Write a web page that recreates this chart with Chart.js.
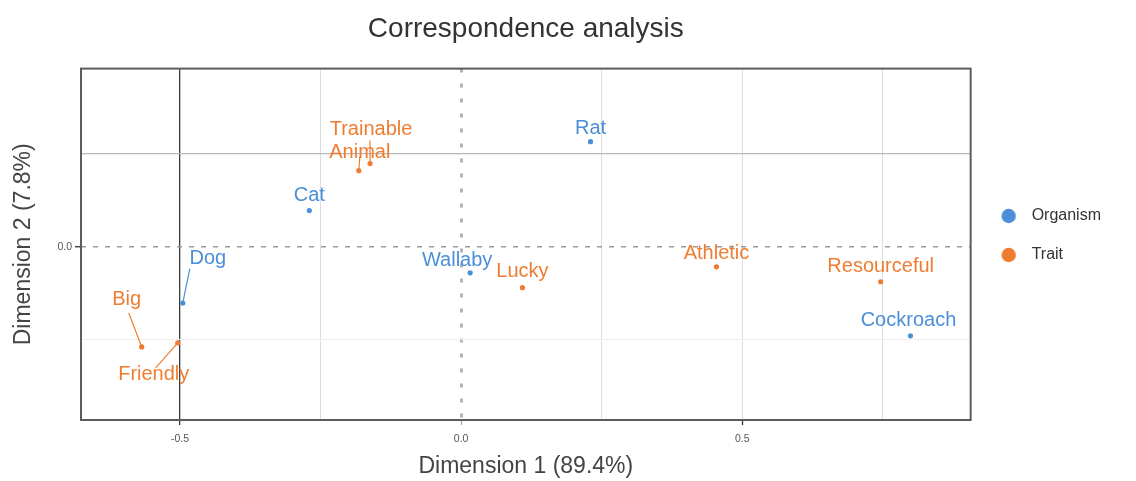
<!DOCTYPE html>
<html>
<head>
<meta charset="utf-8">
<title>Correspondence analysis</title>
<script src="https://cdn.jsdelivr.net/npm/chart.js@4.4.1/dist/chart.umd.min.js"></script>
<style>
  html, body { margin: 0; padding: 0; background: #ffffff; }
  canvas { display: block; }
</style>
</head>
<body>
<canvas id="ca" width="1136" height="481"></canvas>
<script>
// Row (organism) and column (trait) coordinates on the first two dimensions
const organismNames = ['Rat', 'Cat', 'Dog', 'Wallaby', 'Cockroach'];
const organismDim1 = [0.230, -0.270, -0.495, 0.016, 0.799];
const organismDim2 = [0.282, 0.097, -0.151, -0.070, -0.239];

const traitNames = ['Trainable', 'Animal', 'Big', 'Friendly', 'Lucky', 'Athletic', 'Resourceful'];
const traitDim1 = [-0.162, -0.182, -0.568, -0.504, 0.109, 0.454, 0.746];
const traitDim2 = [0.223, 0.204, -0.269, -0.258, -0.110, -0.054, -0.094];

const seriesNames = ['Organism', 'Trait'];
const xTickValues = [-0.5, -0.25, 0, 0.25, 0.5, 0.75];
const yTickValues = [-0.25, 0, 0.25];
const axisTitles = ['Dimension 1 (89.4%)', 'Dimension 2 (7.8%)'];
const chartTitle = 'Correspondence analysis';

// Label placement relative to each point, in pixels (repelled text + leader segment)
const labelNudge = {
  Rat:         { dx: 0,   dy: -13 },
  Cat:         { dx: 0,   dy: -15 },
  Dog:         { dx: 25,  dy: -45, seg: [7, -34] },
  Wallaby:     { dx: -13, dy: -12 },
  Cockroach:   { dx: -2,  dy: -15 },
  Trainable:   { dx: 1,   dy: -34, seg: [0, -23] },
  Animal:      { dx: 1,   dy: -18, seg: [1, -14] },
  Big:         { dx: -15, dy: -47, seg: [-13, -34] },
  Friendly:    { dx: -24, dy: 32,  seg: [-22, 25] },
  Lucky:       { dx: 0,   dy: -16 },
  Athletic:    { dx: 0,   dy: -13 },
  Resourceful: { dx: 0,   dy: -15 }
};

const FONT = "'Liberation Sans', Arial, Helvetica, sans-serif";
const BLUE = '#4a8fd8';
const ORANGE = '#ee7d31';
const seriesColors = [BLUE, ORANGE];

Chart.defaults.font.family = FONT;

const isMajor = v => Math.abs(v * 2 - Math.round(v * 2)) < 1e-9;

// round legend markers
function legendDot(color) {
  const c = document.createElement('canvas');
  c.width = 16; c.height = 16;
  const g = c.getContext('2d');
  g.fillStyle = color;
  g.beginPath();
  g.arc(8, 8, 7.2, 0, Math.PI * 2);
  g.fill();
  return c;
}
const legendDots = seriesColors.map(legendDot);

const toPoints = (names, d1, d2) => names.map((n, i) => ({ x: d1[i], y: d2[i], name: n }));

// full panel border
const panelFrame = {
  id: 'panelFrame',
  beforeDatasetsDraw(chart) {
    const { ctx, chartArea: a } = chart;
    ctx.save();
    ctx.strokeStyle = '#5c5c5c';
    ctx.lineWidth = 2;
    ctx.strokeRect(a.left, a.top, a.right - a.left, a.bottom - a.top);
    ctx.restore();
  }
};

// point labels with leader segments
const pointLabels = {
  id: 'pointLabels',
  afterDatasetsDraw(chart) {
    const ctx = chart.ctx;
    ctx.save();
    ctx.font = '20px ' + FONT;
    ctx.textAlign = 'center';
    ctx.textBaseline = 'middle';
    chart.data.datasets.forEach((ds, di) => {
      const meta = chart.getDatasetMeta(di);
      meta.data.forEach((el, i) => {
        const name = ds.data[i].name;
        const nd = labelNudge[name] || { dx: 0, dy: -14 };
        if (nd.seg) {
          ctx.strokeStyle = ds.borderColor;
          ctx.lineWidth = 1.2;
          ctx.beginPath();
          ctx.moveTo(el.x, el.y);
          ctx.lineTo(el.x + nd.seg[0], el.y + nd.seg[1]);
          ctx.stroke();
        }
        ctx.fillStyle = ds.borderColor;
        ctx.fillText(name, el.x + nd.dx, el.y + nd.dy);
      });
    });
    ctx.restore();
  }
};

new Chart(document.getElementById('ca'), {
  type: 'scatter',
  data: {
    datasets: [
      {
        label: seriesNames[0],
        data: toPoints(organismNames, organismDim1, organismDim2),
        backgroundColor: BLUE, borderColor: BLUE,
        pointRadius: 2.6, pointBorderWidth: 0, pointHoverRadius: 2.6
      },
      {
        label: seriesNames[1],
        data: toPoints(traitNames, traitDim1, traitDim2),
        backgroundColor: ORANGE, borderColor: ORANGE,
        pointRadius: 2.6, pointBorderWidth: 0, pointHoverRadius: 2.6
      }
    ]
  },
  options: {
    responsive: false,
    animation: false,
    events: [],
    layout: { padding: { left: 0, right: 25, top: 0, bottom: 0 } },
    scales: {
      x: {
        type: 'linear',
        min: -0.676, max: 0.906,
        afterBuildTicks: s => { s.ticks = xTickValues.map(v => ({ value: v })); },
        afterFit: s => { s.height = 61; },
        ticks: {
          autoSkip: false, maxRotation: 0, padding: 8,
          color: '#555555', font: { size: 10.5 },
          callback: v => (isMajor(v) ? v.toFixed(1) : '')
        },
        grid: {
          tickLength: 5,
          color: c => {
            const v = c.tick ? c.tick.value : null;
            if (v === -0.5) return '#3a3a3a';
            if (v === 0) return '#b3b3b3';
            return '#dedede';
          },
          lineWidth: c => {
            const v = c.tick ? c.tick.value : null;
            if (v === -0.5) return 1.3;
            if (v === 0) return 3;
            return 1;
          },
          tickColor: c => {
            const v = c.tick ? c.tick.value : null;
            if (v === 0) return '#aaaaaa';
            return isMajor(v) ? '#333333' : 'rgba(0,0,0,0)';
          },
          tickWidth: 1.3
        },
        border: {
          display: false,
          dash: c => (c.tick && c.tick.value === 0 ? [4, 11] : [])
        },
        title: {
          display: true, text: axisTitles[0],
          color: '#444444', font: { size: 23 },
          padding: { top: 0, bottom: 1 }
        }
      },
      y: {
        type: 'linear',
        min: -0.465, max: 0.478,
        afterBuildTicks: s => { s.ticks = yTickValues.map(v => ({ value: v })); },
        afterFit: s => { s.width = 81; },
        ticks: {
          autoSkip: false, padding: 3,
          color: '#555555', font: { size: 10.5 },
          callback: v => (isMajor(v) ? v.toFixed(1) : '')
        },
        grid: {
          tickLength: 6,
          color: c => {
            const v = c.tick ? c.tick.value : null;
            if (v === 0.25) return '#b8b8b8';
            if (v === 0) return '#9a9a9a';
            return '#efefef';
          },
          lineWidth: c => {
            const v = c.tick ? c.tick.value : null;
            if (v === 0.25) return 1.2;
            if (v === 0) return 1.5;
            return 1;
          },
          tickColor: c => (c.tick && c.tick.value === 0 ? '#333333' : 'rgba(0,0,0,0)'),
          tickWidth: 1.3
        },
        border: {
          display: false,
          dash: c => (c.tick && c.tick.value === 0 ? [5, 7] : [])
        },
        title: {
          display: true, text: axisTitles[1],
          color: '#444444', font: { size: 23 },
          padding: { top: 10, bottom: 0 }
        }
      }
    },
    plugins: {
      title: {
        display: true, text: chartTitle, fullSize: false,
        color: '#333333', font: { size: 28, weight: 'normal' },
        padding: { top: 12, bottom: 23 }
      },
      legend: {
        position: 'right', align: 'start',
        title: { display: true, text: '', font: { size: 10 }, padding: { top: 0, bottom: 173 } },
        labels: {
          usePointStyle: true, pointStyleWidth: 30, boxHeight: 16,
          padding: 23, color: '#333333', font: { size: 16 },
          generateLabels: chart =>
            Chart.defaults.plugins.legend.labels.generateLabels(chart)
              .map((it, i) => Object.assign(it, { pointStyle: legendDots[i] }))
        }
      },
      tooltip: { enabled: false }
    }
  },
  plugins: [panelFrame, pointLabels]
});
</script>
</body>
</html>
